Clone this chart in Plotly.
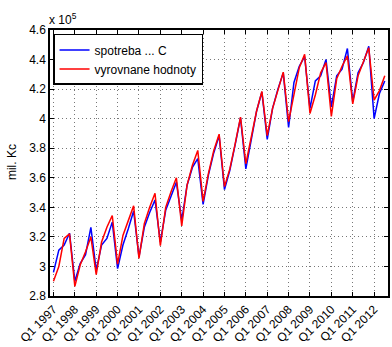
import numpy as np
import plotly.graph_objects as go

# values in units of 10^5 (mil. Kc), Q1 1997 .. Q3 2012
spotreba = [2.96, 3.11, 3.145, 3.225,
            2.90, 3.02, 3.08, 3.265,
            2.975, 3.145, 3.19, 3.30,
            2.985, 3.145, 3.255, 3.375,
            3.065, 3.265, 3.365, 3.45,
            3.165, 3.38, 3.475, 3.57,
            3.31, 3.55, 3.67, 3.73,
            3.42, 3.62, 3.77, 3.885,
            3.52, 3.65, 3.825, 4.005,
            3.66, 3.87, 4.05, 4.18,
            3.86, 4.07, 4.20, 4.31,
            3.94, 4.245, 4.355, 4.42,
            4.07, 4.255, 4.29, 4.40,
            4.08, 4.29, 4.335, 4.475,
            4.115, 4.31, 4.38, 4.49,
            4.00, 4.17, 4.255]
vyrovnane = [2.90, 3.00, 3.19, 3.22,
             2.865, 3.01, 3.10, 3.20,
             2.945, 3.165, 3.265, 3.345,
             3.015, 3.21, 3.31, 3.41,
             3.055, 3.29, 3.40, 3.495,
             3.14, 3.40, 3.505, 3.60,
             3.275, 3.55, 3.685, 3.785,
             3.44, 3.63, 3.785, 3.895,
             3.54, 3.66, 3.83, 4.01,
             3.695, 3.87, 4.05, 4.185,
             3.885, 4.07, 4.20, 4.315,
             3.98, 4.16, 4.345, 4.435,
             4.035, 4.16, 4.31, 4.38,
             4.015, 4.27, 4.355, 4.425,
             4.10, 4.29, 4.39, 4.48,
             4.125, 4.19, 4.29]
years = list(range(1997, 2013))
tick_labels = [f"Q1 {y}" for y in years]
y_ticks = [2.8, 3.0, 3.2, 3.4, 3.6, 3.8, 4.0, 4.2, 4.4, 4.6]
y_tick_labels = ["2.8", "3", "3.2", "3.4", "3.6", "3.8", "4", "4.2", "4.4", "4.6"]

x = np.arange(len(spotreba))
tick_pos = [4 * i for i in range(len(years))]

FONT = "Liberation Sans, Arial, sans-serif"

fig = go.Figure()
fig.add_trace(go.Scatter(x=x, y=spotreba, mode="lines", name="spotreba ... C",
                         line=dict(color="#0000ff", width=1.5)))
fig.add_trace(go.Scatter(x=x, y=vyrovnane, mode="lines", name="vyrovnane hodnoty",
                         line=dict(color="#ff0000", width=1.5)))

axis_common = dict(showline=True, linecolor="black", linewidth=1.5, mirror="ticks",
                   ticks="inside", ticklen=4, tickcolor="black", tickwidth=1,
                   showgrid=True, gridcolor="#777777", griddash="1px,3px", gridwidth=1,
                   zeroline=False, tickfont=dict(family=FONT, size=12, color="black"))

fig.update_layout(
    width=392, height=347,
    margin=dict(l=50, r=2, t=30, b=45),
    paper_bgcolor="white", plot_bgcolor="white",
    font=dict(family=FONT, size=12, color="black"),
    showlegend=True,
    legend=dict(x=0.009, y=0.985, xanchor="left", yanchor="top",
                bgcolor="white", bordercolor="black", borderwidth=1.5,
                font=dict(family=FONT, size=12, color="black"),
                tracegroupgap=0),
    xaxis=dict(range=[-0.65, 62.6], tickmode="array", tickvals=tick_pos,
               ticktext=tick_labels, tickangle=-45, **axis_common),
    yaxis=dict(range=[2.8, 4.6], tickmode="array", tickvals=y_ticks,
               ticktext=y_tick_labels, **axis_common),
    annotations=[
        dict(text="mil. Kc", xref="paper", yref="paper", x=-0.112, y=0.504,
             textangle=-90, showarrow=False, xanchor="center", yanchor="middle",
             font=dict(family=FONT, size=12, color="black")),
        dict(text="x 10<sup>5</sup>", xref="paper", yref="paper", x=-0.01, y=1,
             xanchor="left", yanchor="bottom", yshift=1, showarrow=False,
             font=dict(family=FONT, size=12, color="black")),
    ],
)

fig.write_html("out.html")
